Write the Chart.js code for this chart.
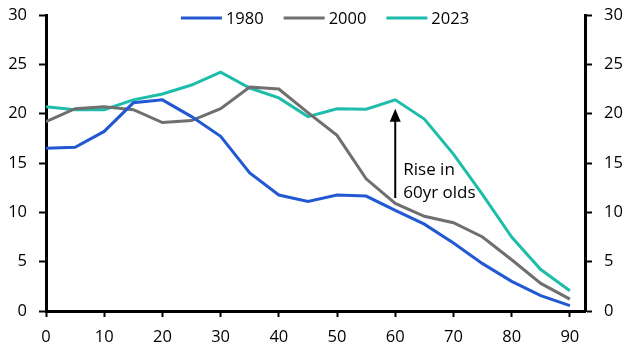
<!DOCTYPE html>
<html>
<head>
<meta charset="utf-8">
<script src="https://cdn.jsdelivr.net/npm/chart.js@4.4.1/dist/chart.umd.min.js"></script>
<style>
  html, body { margin: 0; padding: 0; background: #fff; }
  #wrap { width: 637px; height: 358px; }
</style>
</head>
<body>
<div id="wrap"><canvas id="graf"></canvas></div>
<script>
// Datos: porcentaje por edad
const edades = [0, 5, 10, 15, 20, 25, 30, 35, 40, 45, 50, 55, 60, 65, 70, 75, 80, 85, 90];
const serie1980 = [16.5, 16.6, 18.2, 21.1, 21.4, 19.7, 17.7, 14.0, 11.75, 11.1, 11.75, 11.65, 10.2, 8.8, 6.9, 4.8, 3.0, 1.55, 0.55];
const serie2000 = [19.2, 20.5, 20.7, 20.4, 19.1, 19.3, 20.5, 22.7, 22.5, 20.1, 17.8, 13.4, 10.9, 9.6, 8.95, 7.5, 5.2, 2.8, 1.2];
const serie2023 = [20.7, 20.4, 20.4, 21.4, 22.0, 22.9, 24.2, 22.6, 21.6, 19.7, 20.5, 20.45, 21.4, 19.45, 15.9, 11.8, 7.5, 4.2, 2.05];
const etiquetasX = [0, 10, 20, 30, 40, 50, 60, 70, 80, 90];
const etiquetasY = [0, 5, 10, 15, 20, 25, 30];

// Anotación: flecha en 60 años
const flechaX = 60;
const flechaDesde = 11.45;
const flechaHasta = 20.5;
const textoFlecha = ['Rise in', '60yr olds'];

const FUENTE = '"Open Sans", "Noto Sans", sans-serif';

const puntos = serie => serie.map((v, i) => ({ x: edades[i], y: v }));

// Leyenda dibujada a mano arriba del área del gráfico
const leyendaPlugin = {
    id: 'leyenda',
    afterDraw(chart) {
        const ctx = chart.ctx;
        ctx.save();
        ctx.font = '16.5px ' + FUENTE;
        ctx.textBaseline = 'middle';
        const y = 18;
        const items = chart.data.datasets.map(ds => ({
            texto: ds.label, color: ds.borderColor, ancho: ctx.measureText(ds.label).width
        }));
        const largo = 41, hueco = 4, sep = 20;
        let total = 0;
        items.forEach((it, i) => { total += largo + hueco + it.ancho + (i < items.length - 1 ? sep : 0); });
        let x = 325 - total / 2;
        items.forEach(it => {
            ctx.strokeStyle = it.color;
            ctx.lineWidth = 3;
            ctx.beginPath();
            ctx.moveTo(x, y);
            ctx.lineTo(x + largo, y);
            ctx.stroke();
            ctx.fillStyle = '#000';
            ctx.fillText(it.texto, x + largo + hueco, y + 1);
            x += largo + hueco + it.ancho + sep;
        });
        ctx.restore();
    }
};

// Flecha con texto
const flechaPlugin = {
    id: 'flecha',
    afterDatasetsDraw(chart) {
        const ctx = chart.ctx;
        const sx = chart.scales.x, sy = chart.scales.y;
        const px = sx.getPixelForValue(flechaX);
        const y0 = sy.getPixelForValue(flechaDesde);
        const y1 = sy.getPixelForValue(flechaHasta);
        ctx.save();
        ctx.strokeStyle = '#000';
        ctx.fillStyle = '#000';
        ctx.lineWidth = 2;
        ctx.beginPath();
        ctx.moveTo(px, y0);
        ctx.lineTo(px, y1 + 10);
        ctx.stroke();
        ctx.beginPath();
        ctx.moveTo(px, y1);
        ctx.lineTo(px - 5.5, y1 + 13);
        ctx.lineTo(px + 5.5, y1 + 13);
        ctx.closePath();
        ctx.fill();
        ctx.font = '17px ' + FUENTE;
        ctx.textBaseline = 'alphabetic';
        ctx.fillText(textoFlecha[0], px + 8, y1 + 66);
        ctx.fillText(textoFlecha[1], px + 8, y1 + 89);
        ctx.restore();
    }
};

const ejeY = (pos, ancho) => ({
    position: pos,
    min: 0,
    max: 30,
    afterBuildTicks: s => { s.ticks = etiquetasY.map(v => ({ value: v })); },
    // ancho fijo y sin relleno extra arriba/abajo
    afterFit: s => { s.width = ancho; s.paddingTop = 0; s.paddingBottom = 0; },
    border: { color: '#000', width: 3 },
    grid: { drawOnChartArea: false, drawTicks: true, tickLength: 7, tickColor: '#000', tickWidth: 2 },
    ticks: { color: '#000', padding: 12, font: { size: 16.5, family: FUENTE } }
});

new Chart(document.getElementById('graf').getContext('2d'), {
    type: 'line',
    data: {
        datasets: [
            { label: '1980', data: puntos(serie1980), borderColor: '#2258d2' },
            { label: '2000', data: puntos(serie2000), borderColor: '#6f6f6f' },
            { label: '2023', data: puntos(serie2023), borderColor: '#1ebcaa' }
        ].map(ds => Object.assign(ds, { borderWidth: 3, pointRadius: 0, tension: 0, fill: false }))
    },
    options: {
        responsive: true,
        maintainAspectRatio: false,
        animation: false,
        layout: { padding: { top: 15, left: 0, right: 0, bottom: 0 } },
        plugins: { legend: { display: false }, tooltip: { enabled: false } },
        scales: {
            x: {
                type: 'linear',
                min: 0,
                max: 92.6,
                afterBuildTicks: s => { s.ticks = etiquetasX.map(v => ({ value: v })); },
                afterFit: s => { s.height = 47; s.paddingLeft = 0; s.paddingRight = 0; },
                border: { color: '#000', width: 3 },
                grid: { drawOnChartArea: false, drawTicks: true, tickLength: 6, tickColor: '#000', tickWidth: 2 },
                ticks: { color: '#000', padding: 10, maxRotation: 0, font: { size: 16.5, family: FUENTE } }
            },
            y: ejeY('left', 46),
            y2: ejeY('right', 52)
        }
    },
    plugins: [leyendaPlugin, flechaPlugin]
});
</script>
</body>
</html>
